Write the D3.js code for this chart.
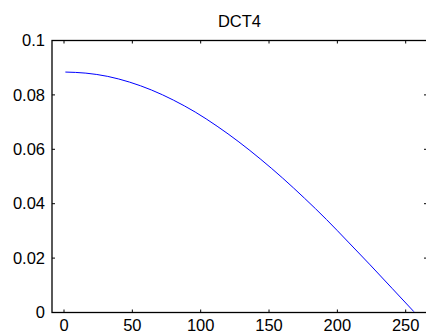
<!DOCTYPE html>
<html>
<head>
<meta charset="utf-8">
<script src="https://cdn.jsdelivr.net/npm/d3@7"></script>
<style>
    body { margin: 0; background: #fff; }
    text { font-family: "Liberation Sans", Arial, sans-serif; }
</style>
</head>
<body>
<svg id="chart" width="426" height="335"></svg>
<script>
// values
const sampleX = [1, 16, 32, 48, 64, 80, 96, 112, 128, 144, 160, 176, 192, 208, 224, 240, 256];
const sampleY = [0.0884, 0.0880, 0.0868, 0.0847, 0.0818, 0.0781, 0.0737, 0.0685, 0.0627,
                 0.0563, 0.0494, 0.0420, 0.0342, 0.0259, 0.0175, 0.0089, 0.0003];
const xTicks = [0, 50, 100, 150, 200, 250];
const yTicks = [0, 0.02, 0.04, 0.06, 0.08, 0.1];
const titleText = "DCT4";

const svg = d3.select("#chart");
const axLeft = 52, axRight = 427, axTop = 40.5, axBottom = 312.5;

const x = d3.scaleLinear().domain([0, 250]).range([64, 405.7]);
const y = d3.scaleLinear().domain([0, 0.1]).range([axBottom, axTop]);

const fontSize = 16.5;

// axes box
svg.append("rect")
    .attr("x", axLeft).attr("y", axTop)
    .attr("width", axRight - axLeft).attr("height", axBottom - axTop)
    .attr("fill", "none").attr("stroke", "#000").attr("stroke-width", 1.3);

// ticks (inward, both sides)
const tickLen = 3;
svg.append("g").selectAll("line").data(xTicks).join("line")
    .attr("x1", d => x(d)).attr("x2", d => x(d))
    .attr("y1", axBottom).attr("y2", axBottom - tickLen)
    .attr("stroke", "#000");
svg.append("g").selectAll("line").data(xTicks).join("line")
    .attr("x1", d => x(d)).attr("x2", d => x(d))
    .attr("y1", axTop).attr("y2", axTop + tickLen)
    .attr("stroke", "#000");
svg.append("g").selectAll("line").data(yTicks).join("line")
    .attr("x1", axLeft).attr("x2", axLeft + tickLen)
    .attr("y1", d => y(d)).attr("y2", d => y(d))
    .attr("stroke", "#000");
svg.append("g").selectAll("line").data(yTicks).join("line")
    .attr("x1", axRight).attr("x2", axRight - tickLen)
    .attr("y1", d => y(d)).attr("y2", d => y(d))
    .attr("stroke", "#000");

// tick labels
svg.append("g").selectAll("text").data(xTicks).join("text")
    .attr("x", d => x(d)).attr("y", 331)
    .attr("text-anchor", "middle")
    .attr("font-size", fontSize)
    .text(d => d);
svg.append("g").selectAll("text").data(yTicks).join("text")
    .attr("x", 45).attr("y", d => y(d))
    .attr("dy", "0.35em")
    .attr("text-anchor", "end")
    .attr("font-size", fontSize)
    .text(d => d);

// title
svg.append("text")
    .attr("x", (axLeft + axRight) / 2).attr("y", 26.5)
    .attr("text-anchor", "middle")
    .attr("font-size", fontSize)
    .text(titleText);

// curve
const line = d3.line()
    .x((d, i) => x(sampleX[i]))
    .y(d => y(d))
    .curve(d3.curveMonotoneX);

svg.append("path")
    .datum(sampleY)
    .attr("d", line)
    .attr("fill", "none")
    .attr("stroke", "#0000ff")
    .attr("stroke-width", 1);
</script>
</body>
</html>
